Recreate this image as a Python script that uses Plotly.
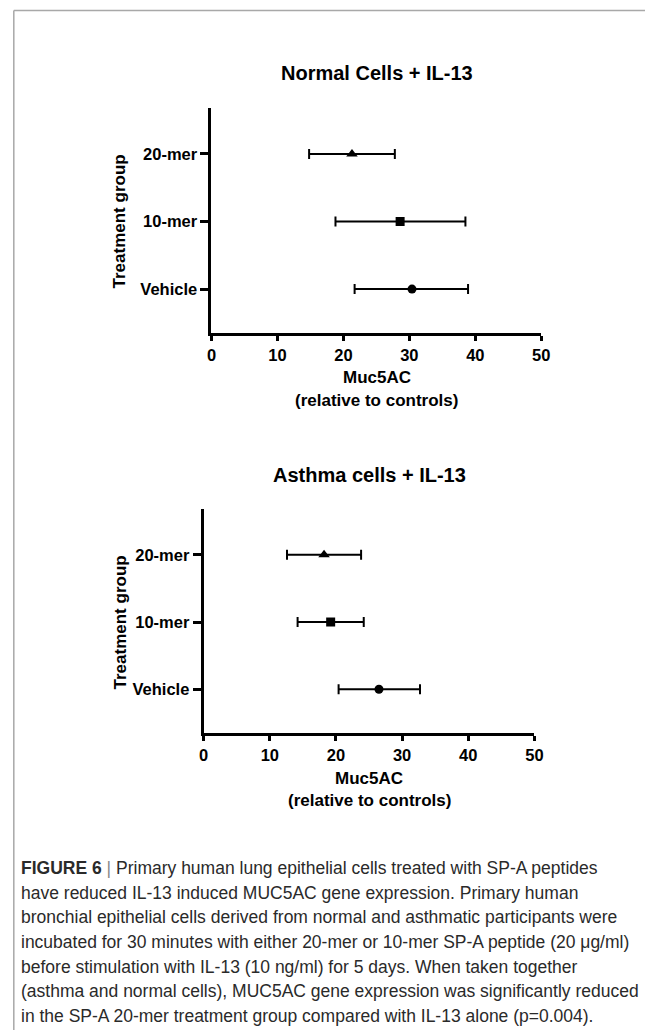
import plotly.graph_objects as go

# The page's default 8px body margin is removed by a post script, so the
# figure covers the full 654x1030 window.
OFF = 0
W, H = 654, 1030

categories = ["Vehicle", "10-mer", "20-mer"]
marker_symbols = ["circle", "square", "triangle-up"]

normal_means = [30.4, 28.6, 21.3]
normal_lower = [21.7, 18.8, 14.8]
normal_upper = [38.9, 38.5, 27.8]

asthma_means = [26.5, 19.2, 18.2]
asthma_lower = [20.4, 14.2, 12.6]
asthma_upper = [32.7, 24.2, 23.8]

x_ticks = [0, 10, 20, 30, 40, 50]

titles = ["Normal Cells + IL-13", "Asthma cells + IL-13"]
x_title_lines = ["Muc5AC", "(relative to controls)"]
y_title = "Treatment group"

caption_lines = [
    "<b>FIGURE 6</b> <span style='color:#888'>|</span> Primary human lung epithelial cells treated with SP-A peptides",
    "have reduced IL-13 induced MUC5AC gene expression. Primary human",
    "bronchial epithelial cells derived from normal and asthmatic participants were",
    "incubated for 30 minutes with either 20-mer or 10-mer SP-A peptide (20 \u03bcg/ml)",
    "before stimulation with IL-13 (10 ng/ml) for 5 days. When taken together",
    "(asthma and normal cells), MUC5AC gene expression was significantly reduced",
    "in the SP-A 20-mer treatment group compared with IL-13 alone (p=0.004).",
]


def px(x):
    return (x - OFF) / W


def py(y):
    return 1 - (y - OFF) / H


FONT = "Liberation Sans, Arial, sans-serif"

fig = go.Figure()

panels = [
    dict(means=normal_means, lo=normal_lower, hi=normal_upper,
         xd=(211, 548), yd=(108, 333), xa="x", ya="y",
         title_xy=(380, 73), xt_xy=(380, 378), yt_xy=(118, 221)),
    dict(means=asthma_means, lo=asthma_lower, hi=asthma_upper,
         xd=(203, 541), yd=(509, 733), xa="x2", ya="y2",
         title_xy=(372, 475), xt_xy=(372, 778), yt_xy=(118, 622)),
]

annotations = []
for i, p in enumerate(panels):
    minus = [m - l for m, l in zip(p["means"], p["lo"])]
    plus = [h - m for m, h in zip(p["means"], p["hi"])]
    for j, cat in enumerate(categories):
        fig.add_trace(go.Scatter(
            x=[p["means"][j]], y=[cat], mode="markers",
            marker=dict(symbol=marker_symbols[j], size=9 if j != 2 else 10, color="black"),
            error_x=dict(type="data", symmetric=False, array=[plus[j]], arrayminus=[minus[j]],
                         color="black", thickness=2, width=5),
            xaxis=p["xa"], yaxis=p["ya"], showlegend=False, cliponaxis=False,
        ))
    sfx = "" if i == 0 else "2"
    axis_common = dict(showline=True, linecolor="black", linewidth=3, ticks="outside",
                       tickcolor="black", tickwidth=2.5, showgrid=False, zeroline=False,
                       tickfont=dict(family=FONT, size=16.5, color="black", weight="bold"))
    fig.layout["xaxis" + sfx] = dict(
        domain=[px(p["xd"][0]), px(p["xd"][1])], range=[0, 50], tickvals=x_ticks,
        ticklen=5, anchor="y" + sfx, **axis_common)
    fig.layout["yaxis" + sfx] = dict(
        domain=[py(p["yd"][1]), py(p["yd"][0])], type="category",
        categoryorder="array", categoryarray=categories, range=[-0.65, 2.68],
        ticklen=8, anchor="x" + sfx, **axis_common)
    annotations.append(dict(text="<b>" + titles[i] + "</b>", x=px(p["title_xy"][0]), y=py(p["title_xy"][1]),
                            xref="paper", yref="paper", showarrow=False, xanchor="center", yanchor="middle",
                            font=dict(family=FONT, size=20, color="black")))
    annotations.append(dict(text="<b>" + x_title_lines[0] + "</b>", x=px(p["xt_xy"][0]), y=py(p["xt_xy"][1]),
                            xref="paper", yref="paper", showarrow=False, xanchor="center", yanchor="middle",
                            font=dict(family=FONT, size=17, color="black")))
    annotations.append(dict(text="<b>" + x_title_lines[1] + "</b>", x=px(p["xt_xy"][0]), y=py(p["xt_xy"][1] + 22),
                            xref="paper", yref="paper", showarrow=False, xanchor="center", yanchor="middle",
                            font=dict(family=FONT, size=17, color="black")))
    annotations.append(dict(text="<b>" + y_title + "</b>", x=px(p["yt_xy"][0]), y=py(p["yt_xy"][1]),
                            xref="paper", yref="paper", showarrow=False, xanchor="center", yanchor="middle",
                            textangle=-90, font=dict(family=FONT, size=17, color="black")))

for k, line in enumerate(caption_lines):
    annotations.append(dict(text=line, x=px(14), y=py(868 + k * 24.67), xref="paper", yref="paper",
                            showarrow=False, xanchor="left", yanchor="middle", align="left",
                            font=dict(family=FONT, size=17.5, color="#2a2a2a")))

shapes = [
    dict(type="line", xref="paper", yref="paper", x0=px(9), x1=1, y0=py(10.5), y1=py(10.5),
         line=dict(color="#a8a8a8", width=1.5)),
    dict(type="line", xref="paper", yref="paper", x0=px(9), x1=px(9), y0=py(10.5), y1=0,
         line=dict(color="#a8a8a8", width=1.5)),
]

fig.update_layout(
    width=W, height=H, margin=dict(l=0, r=0, t=0, b=0),
    paper_bgcolor="white", plot_bgcolor="white",
    annotations=annotations, shapes=shapes, showlegend=False,
    font=dict(family=FONT, color="black"),
)

fig.write_html("out.html", config={"displayModeBar": False},
               post_script="document.body.style.margin='0';document.body.style.overflow='hidden';")
